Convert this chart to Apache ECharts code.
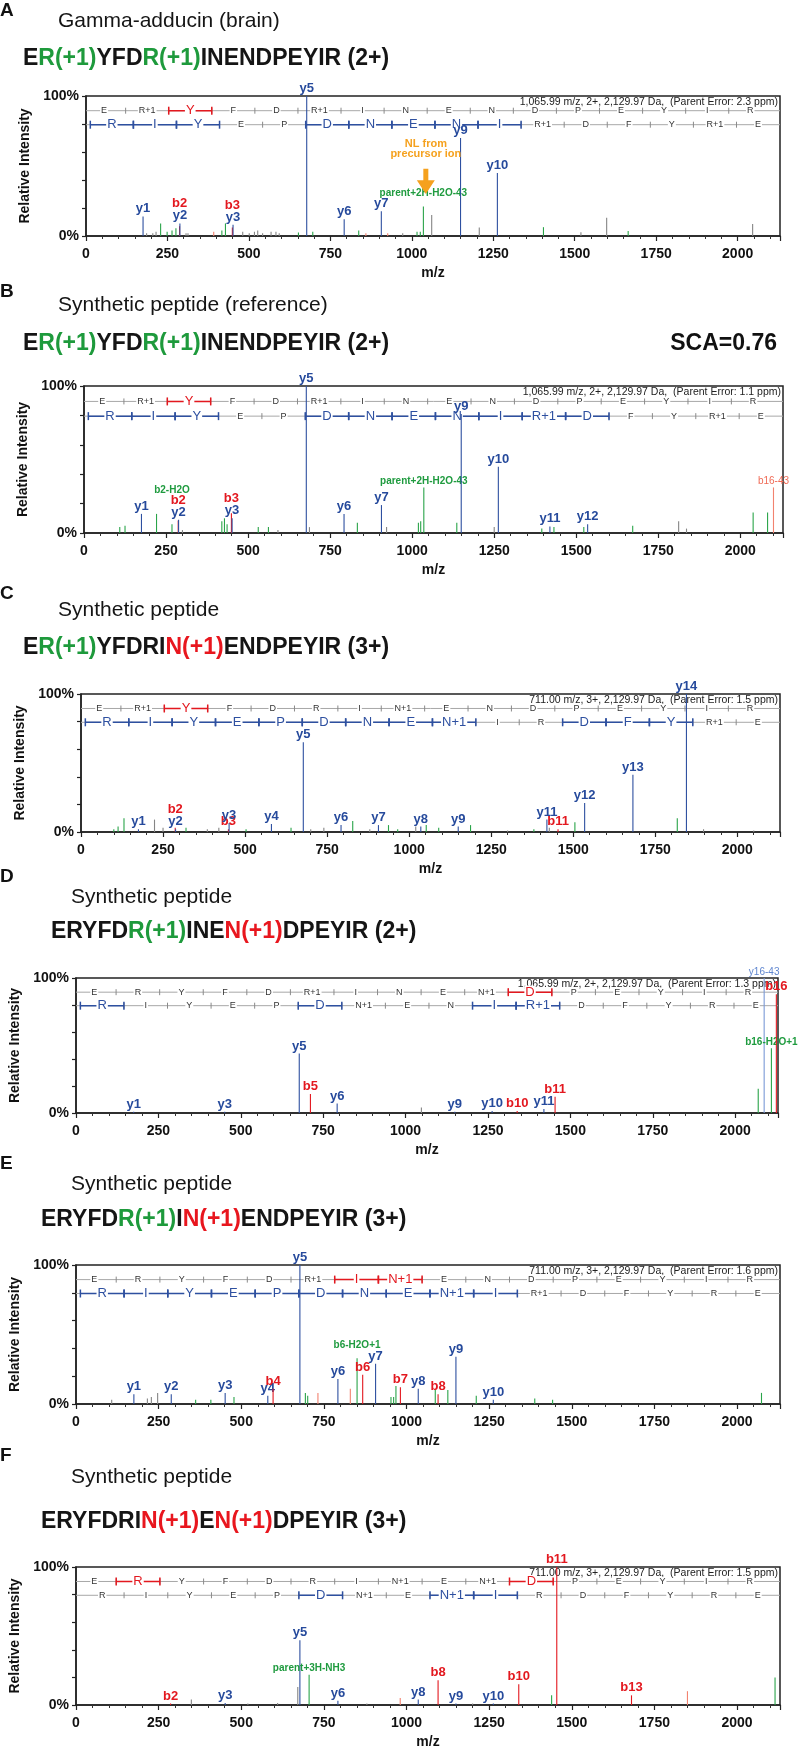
<!DOCTYPE html>
<html><head><meta charset="utf-8">
<script src="https://cdn.jsdelivr.net/npm/echarts@6/dist/echarts.min.js"></script>
<style>html,body{margin:0;padding:0;background:#fff}#c{width:798px;height:1750px}</style>
</head><body><div id="c"></div>
<script>
// ================= DATA =================
const X_MAX = 2130;
const X_INTERVAL = 250;
const Y_TICK_LABELS = {0: '0%', 100: '100%'};

const panelLetters = ['A', 'B', 'C', 'D', 'E', 'F'];
const subTitles = ['Gamma-adducin (brain)', 'Synthetic peptide (reference)', 'Synthetic peptide', 'Synthetic peptide', 'Synthetic peptide', 'Synthetic peptide'];
// peptide title segments: [text, colour key]  k=black g=green r=red
const seqTitleA = [['E','k'],['R(+1)','g'],['YFD','k'],['R(+1)','g'],['INENDPEYIR (2+)','k']];
const seqTitleB = [['E','k'],['R(+1)','g'],['YFD','k'],['R(+1)','g'],['INENDPEYIR (2+)','k']];
const seqTitleC = [['E','k'],['R(+1)','g'],['YFDRI','k'],['N(+1)','r'],['ENDPEYIR (3+)','k']];
const seqTitleD = [['ERYFD','k'],['R(+1)','g'],['INE','k'],['N(+1)','r'],['DPEYIR (2+)','k']];
const seqTitleE = [['ERYFD','k'],['R(+1)','g'],['I','k'],['N(+1)','r'],['ENDPEYIR (3+)','k']];
const seqTitleF = [['ERYFDRI','k'],['N(+1)','r'],['E','k'],['N(+1)','r'],['DPEYIR (3+)','k']];
const scaText = 'SCA=0.76';

const headerA = '1,065.99 m/z, 2+, 2,129.97 Da,  (Parent Error: 2.3 ppm)';
const headerB = '1,065.99 m/z, 2+, 2,129.97 Da,  (Parent Error: 1.1 ppm)';
const headerC = '711.00 m/z, 3+, 2,129.97 Da,  (Parent Error: 1.5 ppm)';
const headerD = '1,065.99 m/z, 2+, 2,129.97 Da,  (Parent Error: 1.3 ppm)';
const headerE = '711.00 m/z, 3+, 2,129.97 Da,  (Parent Error: 1.6 ppm)';
const headerF = '711.00 m/z, 3+, 2,129.97 Da,  (Parent Error: 1.5 ppm)';

// sequence ladders (b direction on top, y direction below) and matched indices
const seqTopA = ['E','R+1','Y','F','D','R+1','I','N','E','N','D','P','E','Y','I','R'];
const seqBotA = ['R','I','Y','E','P','D','N','E','N','I','R+1','D','F','Y','R+1','E'];
const hlTopA = [2]; const hlBotA = [0,1,2,5,6,7,8,9];
const seqTopB = ['E','R+1','Y','F','D','R+1','I','N','E','N','D','P','E','Y','I','R'];
const seqBotB = ['R','I','Y','E','P','D','N','E','N','I','R+1','D','F','Y','R+1','E'];
const hlTopB = [2]; const hlBotB = [0,1,2,5,6,7,8,9,10,11];
const seqTopC = ['E','R+1','Y','F','D','R','I','N+1','E','N','D','P','E','Y','I','R'];
const seqBotC = ['R','I','Y','E','P','D','N','E','N+1','I','R','D','F','Y','R+1','E'];
const hlTopC = [2]; const hlBotC = [0,1,2,3,4,5,6,7,8,11,12,13];
const seqTopD = ['E','R','Y','F','D','R+1','I','N','E','N+1','D','P','E','Y','I','R'];
const seqBotD = ['R','I','Y','E','P','D','N+1','E','N','I','R+1','D','F','Y','R','E'];
const hlTopD = [10]; const hlBotD = [0,5,9,10];
const seqTopE = ['E','R','Y','F','D','R+1','I','N+1','E','N','D','P','E','Y','I','R'];
const seqBotE = ['R','I','Y','E','P','D','N','E','N+1','I','R+1','D','F','Y','R','E'];
const hlTopE = [6,7]; const hlBotE = [0,1,2,3,4,5,6,7,8,9];
const seqTopF = ['E','R','Y','F','D','R','I','N+1','E','N+1','D','P','E','Y','I','R'];
const seqBotF = ['R','I','Y','E','P','D','N+1','E','N+1','I','R','D','F','Y','R','E'];
const hlTopF = [1,10]; const hlBotF = [5,8,9];

// peaks: [m/z, relative intensity %, ion class, label]
// classes: y = y ion, b = b ion, n = neutral loss / other matched, u = unassigned, bl = other b, yl = other y
const peaksA = [
 [175.1,14,'y','y1'],[186,2,'u'],[205,2,'u'],[215,3,'u'],[229,9,'n'],[249,3,'n'],[264,4,'n'],[276,5.5,'n'],
 [287.1,7,'b','b2'],[288.2,9,'y','y2'],[307,2,'u'],[313,2,'u'],[392,3,'bl'],[417,4,'n'],[428,9,'n'],
 [449.2,6,'b','b3'],[451.3,8,'y','y3'],[481,3,'u'],[501,2,'u'],[517,3,'u'],[527,4,'u'],[542,2,'u'],[568,3,'u'],
 [583,3,'u'],[593,2,'u'],[652,2.5,'n'],[677.4,100,'y','y5'],[696,3,'n'],[792.4,12,'y','y6'],[837,4,'n'],
 [859,2,'bl'],[906.4,17.6,'y','y7'],[926,2,'bl'],[972,2,'u'],[1016,3,'n'],[1026,3,'n'],
 [1035.5,21,'n','parent+2H-H2O-43'],[1061,15,'u'],[1149.5,70,'y','y9'],[1207,6,'u'],[1262.6,45,'y','y10'],
 [1404,6.3,'n'],[1519,2.7,'u'],[1598,13,'u'],[1664,3.6,'n'],[2046,8.5,'u']
];
const peaksB = [
 [109,4,'n'],[125,5,'n'],[175.1,13,'y','y1'],[221,13,'n'],[268.1,6,'n','b2-H2O'],[287.1,8.5,'b','b2'],
 [288.2,9,'y','y2'],[300,2,'u'],[420,8,'n'],[428,10,'n'],[436,6,'n'],[449.2,13.5,'b','b3'],[451.3,10,'y','y3'],
 [531,4,'n'],[562,4,'n'],[591,2,'u'],[677.4,100,'y','y5'],[687,4,'u'],[792.4,13,'y','y6'],[833,7,'n'],
 [906.4,19,'y','y7'],[922,4,'u'],[1019,7,'n'],[1026,8,'n'],[1035.5,31,'n','parent+2H-H2O-43'],[1136,7,'n'],
 [1149.5,81,'y','y9'],[1250,4,'u'],[1262.6,45,'y','y10'],[1395,3,'n'],[1419.7,4.5,'y','y11'],[1432,4,'n'],
 [1523,4,'n'],[1534.7,6,'y','y12'],[1672,5,'n'],[1812,8,'u'],[1836,3,'u'],[2039,14,'n'],[2083,14,'n'],
 [2101,31,'bl','b16-43']
];
const peaksC = [
 [100,2,'n'],[113,4,'n'],[131,10,'n'],[175.1,2,'y','y1'],[224,9,'u'],[250,3,'u'],[287.1,3,'b','b2'],
 [288.2,2,'y','y2'],[320,3,'n'],[385,2,'u'],[420,3,'u'],[449.2,2,'b','b3'],[451.3,6.5,'y','y3'],[503,2,'n'],
 [580.3,5.8,'y','y4'],[640,3,'n'],[677.4,65,'y','y5'],[700,2,'u'],[740,3,'u'],[792.4,5,'y','y6'],[828,8,'n'],
 [880,2,'u'],[906.4,5,'y','y7'],[937,5,'n'],[965,2,'n'],[1020,4,'u'],[1035.5,4,'y','y8'],[1052,5,'n'],
 [1090,3,'n'],[1149.5,4,'y','y9'],[1187,5,'n'],[1300,1,'u'],[1380,2,'n'],[1419.7,9,'y','y11'],[1427,3,'u'],
 [1453.6,2,'b','b11'],[1505,7,'n'],[1534.7,21,'y','y12'],[1681.8,41.5,'y','y13'],[1817,10,'n'],
 [1844.9,100,'y','y14'],[1897,2,'u'],[2050,1,'u']
];
const peaksD = [
 [175.1,1,'y','y1'],[451.3,1,'y','y3'],[677.4,44,'y','y5'],[711.3,14,'b','b5'],[792.4,7,'y','y6'],
 [1048,4,'u'],[1149.5,1,'y','y9'],[1262.6,1.5,'y','y10'],[1338.6,1.5,'b','b10'],[1419.7,3,'y','y11'],
 [1453.6,12,'b','b11'],[2070,18,'n'],[2088,100,'yl','y16-43'],[2110,48,'n','b16-H2O+1'],[2125,88,'b','b16']
];
const peaksE = [
 [108,3,'u'],[175.1,7,'y','y1'],[216,4,'u'],[228,5,'u'],[247,8,'u'],[288.2,7,'y','y2'],[362,3,'n'],[408,3,'n'],
 [451.3,8,'y','y3'],[478,5,'n'],[580.3,6,'y','y4'],[596.3,11,'b','b4'],[677.4,100,'y','y5'],[694,8,'n'],
 [701,6,'n'],[732,8,'bl'],[792.4,18,'y','y6'],[830,11,'bl'],[850.4,33,'n','b6-H2O+1'],[867.4,21,'b','b6'],
 [906.4,29,'y','y7'],[953,5,'n'],[961,5,'n'],[968,13,'n'],[981.5,12,'b','b7'],[1035.5,11,'y','y8'],
 [1087,10,'n'],[1095.5,7,'b','b8'],[1125,10,'n'],[1149.5,34,'y','y9'],[1211,6,'n'],[1262.6,3,'y','y10'],
 [1388,4,'n'],[1442,3,'n'],[2074,8,'n']
];
const peaksF = [
 [286.1,1,'b','b2'],[349,4,'u'],[451.3,1.5,'y','y3'],[520,1,'u'],[610,1.5,'u'],[671,13,'u'],[677.4,47,'y','y5'],
 [705.3,22,'n','parent+3H-NH3'],[792.4,3,'y','y6'],[880,1,'u'],[981,5,'bl'],[1035.5,4,'y','y8'],
 [1095.5,18,'b','b8'],[1149.5,1,'y','y9'],[1200,1,'u'],[1262.6,1,'y','y10'],[1339.6,15,'b','b10'],
 [1439,7,'n'],[1454.6,100,'b','b11'],[1680.7,7,'b','b13'],[1850,10,'bl'],[2115,20,'n']
];
// neutral-loss annotation in panel A
const nlMz = 1043;
const nlArrow = [48, 30];
const nlText = ['NL from', 'precursor ion'];
const nlTextAt = [66, 58.5];

// ================= PRESENTATION =================
const FF = "'Liberation Sans', Arial, Helvetica, sans-serif";
const COLORS = {y:'#2e50a0', b:'#e3181f', n:'#2aa449', u:'#858585', bl:'#f2826f', yl:'#7a9ad6'};
const LABEL_COLORS = {y:'#264a9c', b:'#e3181f', n:'#1f9b3f', u:'#666', bl:'#f06a55', yl:'#5f86d0'};
const SEQ_COLORS = {k:'#151515', g:'#1e9a3c', r:'#e8161e'};
const ORANGE = '#f5a11e';

const layout = [
 {left:86, top:96,   width:694, height:140, letterY:12,   subY:24,   subX:58, seqY:61,   seqX:23},
 {left:84, top:386,  width:699, height:147, letterY:293,  subY:308,  subX:58, seqY:346,  seqX:23},
 {left:81, top:694,  width:699, height:138, letterY:595,  subY:613,  subX:58, seqY:650,  seqX:23},
 {left:76, top:978,  width:702, height:135, letterY:878,  subY:900,  subX:71, seqY:934,  seqX:51},
 {left:76, top:1265, width:704, height:139, letterY:1165, subY:1187, subX:71, seqY:1222, seqX:41},
 {left:76, top:1567, width:704, height:138, letterY:1457, subY:1480, subX:71, seqY:1524, seqX:41}
];

const panels = [
 {peaks:peaksA, top:seqTopA, bot:seqBotA, hlTop:hlTopA, hlBot:hlBotA, header:headerA, seq:seqTitleA},
 {peaks:peaksB, top:seqTopB, bot:seqBotB, hlTop:hlTopB, hlBot:hlBotB, header:headerB, seq:seqTitleB},
 {peaks:peaksC, top:seqTopC, bot:seqBotC, hlTop:hlTopC, hlBot:hlBotC, header:headerC, seq:seqTitleC},
 {peaks:peaksD, top:seqTopD, bot:seqBotD, hlTop:hlTopD, hlBot:hlBotD, header:headerD, seq:seqTitleD},
 {peaks:peaksE, top:seqTopE, bot:seqBotE, hlTop:hlTopE, hlBot:hlBotE, header:headerE, seq:seqTitleE},
 {peaks:peaksF, top:seqTopF, bot:seqBotF, hlTop:hlTopF, hlBot:hlBotF, header:headerF, seq:seqTitleF}
];

const TOP_ROW = 89.5, BOT_ROW = 79.5, BOT_OFFSET = 0.18;

function isMainLabel(t) { return /^[by]\d+$/.test(t); }

// place labels at peak tops, pushing colliding ones upward
function layoutLabels(peaks, g) {
  const pxX = g.width / X_MAX, pxY = g.height / 100;
  const items = [];
  peaks.forEach((p, i) => { if (p[3]) items.push({i, mz:p[0], v:p[1], type:p[2], text:p[3]}); });
  const rank = t => (t === 'y' || t === 'yl') ? 0 : ((t === 'b' || t === 'bl') ? 1 : 2);
  items.sort((a, b) => rank(a.type) - rank(b.type) || b.v - a.v);
  const placed = [], res = {};
  items.forEach(o => {
    const big = isMainLabel(o.text);
    const w = o.text.length * (big ? 7.5 : 5.6);
    const h = big ? 12 : 10;
    let bottom = o.v * pxY + 1;
    const cx = o.mz * pxX;
    let moved = true, guard = 0;
    while (moved && guard++ < 30) {
      moved = false;
      for (const q of placed) {
        const hOver = Math.abs(cx - q.cx) < (w + q.w) / 2 * 0.9;
        const vOver = Math.min(bottom + h, q.b + q.h) - Math.max(bottom, q.b);
        if (hOver && vOver > 0.5 * Math.min(h, q.h)) { bottom = q.b + q.h; moved = true; }
      }
    }
    placed.push({cx, w, h, b: bottom});
    res[o.i] = {bottomPx: bottom, big, text: o.text};
  });
  return res;
}

function makePeakRender(peaks, labels) {
  return function (params, api) {
    const p = peaks[params.dataIndex];
    const b = api.coord([p[0], 0]);
    const t = api.coord([p[0], p[1]]);
    const ch = [{type:'line', shape:{x1:b[0], y1:b[1], x2:t[0], y2:t[1]},
      style:{stroke:COLORS[p[2]], lineWidth:1.1}}];
    const L = labels[params.dataIndex];
    if (L) {
      ch.push({type:'text', x:t[0], y:b[1] - L.bottomPx, style:{
        text:L.text, fill:LABEL_COLORS[p[2]], fontFamily:FF,
        fontSize: L.big ? 13 : 10,
        fontWeight: (L.big || p[2] === 'n') ? 'bold' : 'normal',
        align:'center', verticalAlign:'bottom'}});
    }
    return {type:'group', children:ch};
  };
}

function makeLadderRender(letters, hl, rowY, offset, color, header) {
  return function (params, api) {
    const i = params.dataIndex;
    const cs = params.coordSys;
    const c = api.coord([i + offset, rowY]);
    const l = api.coord([i + offset - 0.5, rowY]);
    const r = api.coord([i + offset + 0.5, rowY]);
    const y = c[1];
    const ch = [];
    if (i === 0) {
      ch.push({type:'line', shape:{x1:cs.x, y1:y, x2:cs.x + cs.width, y2:y}, style:{stroke:'#a8a8a8', lineWidth:1}});
      if (header) {
        ch.push({type:'text', x:cs.x + cs.width - 2, y:cs.y + 1, style:{text:header, fill:'#222',
          fontFamily:FF, fontSize:10.5, align:'right', verticalAlign:'top'}});
      }
    }
    const on = hl.indexOf(i) >= 0;
    if (i < letters.length - 1) {
      ch.push({type:'line', shape:{x1:r[0], y1:y - 3, x2:r[0], y2:y + 3}, style:{stroke:'#8a8a8a', lineWidth:1}});
    }
    if (on) {
      ch.push({type:'line', shape:{x1:l[0], y1:y, x2:r[0], y2:y}, style:{stroke:color, lineWidth:1.5}});
      ch.push({type:'line', shape:{x1:l[0], y1:y - 4, x2:l[0], y2:y + 4}, style:{stroke:color, lineWidth:1.5}});
      ch.push({type:'line', shape:{x1:r[0], y1:y - 4, x2:r[0], y2:y + 4}, style:{stroke:color, lineWidth:1.5}});
    }
    ch.push({type:'text', x:c[0], y:y, style:{text:letters[i], fontFamily:FF,
      fontSize: on ? 13 : 9, fill: on ? color : '#333',
      backgroundColor:'#fff', padding:[0, 1], align:'center', verticalAlign:'middle'}});
    return {type:'group', children:ch};
  };
}

function richSeq(segs) { return segs.map(s => '{' + s[1] + '|' + s[0] + '}').join(''); }
const seqRich = {};
Object.keys(SEQ_COLORS).forEach(k => { seqRich[k] = {color:SEQ_COLORS[k], fontSize:23, fontWeight:'bold', fontFamily:FF}; });

const option = {animation:false, backgroundColor:'#fff', title:[], grid:[], xAxis:[], yAxis:[], series:[]};

panels.forEach((p, k) => {
  const g = layout[k];
  option.title.push({text:panelLetters[k], left:0, top:g.letterY - 11, padding:0,
    textStyle:{fontSize:19, fontWeight:'bold', color:'#111', fontFamily:FF}});
  option.title.push({text:subTitles[k], left:g.subX, top:g.subY - 13, padding:0,
    textStyle:{fontSize:21, fontWeight:'normal', color:'#151515', fontFamily:FF}});
  option.title.push({text:richSeq(p.seq), left:g.seqX, top:g.seqY - 14, padding:0,
    textStyle:{rich:seqRich, fontSize:23, fontWeight:'bold', fontFamily:FF}});
  if (k === 1) {
    option.title.push({text:scaText, right:21, top:g.seqY - 14, padding:0,
      textStyle:{fontSize:23, fontWeight:'bold', color:'#111', fontFamily:FF}});
  }
  option.grid.push({left:g.left, top:g.top, width:g.width, height:g.height, show:true,
    borderColor:'#222', borderWidth:1.5, backgroundColor:'transparent', containLabel:false, outerBoundsMode:'none'});
  option.xAxis.push({type:'value', gridIndex:k, min:0, max:X_MAX, interval:X_INTERVAL,
    name:'m/z', nameLocation:'middle', nameGap:30,
    nameTextStyle:{fontSize:14, fontWeight:'bold', color:'#111', fontFamily:FF},
    axisLine:{show:true, lineStyle:{color:'#222', width:1.5}},
    axisTick:{show:true, length:5, lineStyle:{color:'#222', width:1.2}},
    minorTick:{show:true, splitNumber:5, length:3, lineStyle:{color:'#333', width:1}},
    splitLine:{show:false}, minorSplitLine:{show:false},
    axisLabel:{margin:11, fontSize:14, fontWeight:'bold', color:'#111', fontFamily:FF,
      showMaxLabel:false, formatter: v => (v % X_INTERVAL === 0 ? String(v) : '')}});
  option.xAxis.push({type:'value', gridIndex:k, min:-0.42, max:15.69, show:false});
  option.yAxis.push({type:'value', gridIndex:k, min:0, max:100, interval:20,
    name:'Relative Intensity', nameLocation:'middle', nameGap:37,
    nameTextStyle:{fontSize:14, fontWeight:'bold', color:'#111', fontFamily:FF},
    axisLine:{show:true, lineStyle:{color:'#222', width:1.5}},
    axisTick:{show:true, length:4, lineStyle:{color:'#222', width:1.2}},
    splitLine:{show:false},
    axisLabel:{margin:7, fontSize:14, fontWeight:'bold', color:'#111', fontFamily:FF,
      formatter: v => (Y_TICK_LABELS[v] || '')}});

  option.series.push({type:'custom', xAxisIndex:2 * k + 1, yAxisIndex:k, z:1, silent:true, clip:false,
    renderItem: makeLadderRender(p.top, p.hlTop, TOP_ROW, 0, COLORS.b, p.header),
    data: p.top.map((s, i) => [i, TOP_ROW])});
  option.series.push({type:'custom', xAxisIndex:2 * k + 1, yAxisIndex:k, z:1, silent:true, clip:false,
    renderItem: makeLadderRender(p.bot, p.hlBot, BOT_ROW, BOT_OFFSET, COLORS.y, null),
    data: p.bot.map((s, i) => [i + BOT_OFFSET, BOT_ROW])});
  const labels = layoutLabels(p.peaks, g);
  option.series.push({type:'custom', xAxisIndex:2 * k, yAxisIndex:k, z:3, silent:true, clip:false,
    renderItem: makePeakRender(p.peaks, labels),
    encode:{x:0, y:1},
    data: p.peaks.map(q => [q[0], q[1]])});
  if (k === 0) {
    option.series.push({type:'custom', xAxisIndex:0, yAxisIndex:0, z:4, silent:true, clip:false,
      data:[[nlMz, nlArrow[0]]],
      renderItem: function (params, api) {
        const a = api.coord([nlMz, nlArrow[0]]);
        const t = api.coord([nlMz, nlArrow[1]]);
        const neck = a[1] + (t[1] - a[1]) * 0.45;
        const x = a[0];
        const ch = [
          {type:'polygon', shape:{points:[[x - 2.5, a[1]], [x + 2.5, a[1]], [x + 2.5, neck], [x + 9, neck], [x, t[1]], [x - 9, neck], [x - 2.5, neck]]},
           style:{fill:ORANGE}}
        ];
        nlText.forEach((s, j) => {
          const pt = api.coord([nlMz, nlTextAt[j]]);
          ch.push({type:'text', x:pt[0], y:pt[1], style:{text:s, fill:ORANGE, fontFamily:FF, fontSize:11,
            fontWeight:'bold', align:'center', verticalAlign:'middle'}});
        });
        return {type:'group', children:ch};
      }});
  }
});

const chart = echarts.init(document.getElementById('c'), null, {renderer:'canvas'});
chart.setOption(option);
</script>
</body></html>
